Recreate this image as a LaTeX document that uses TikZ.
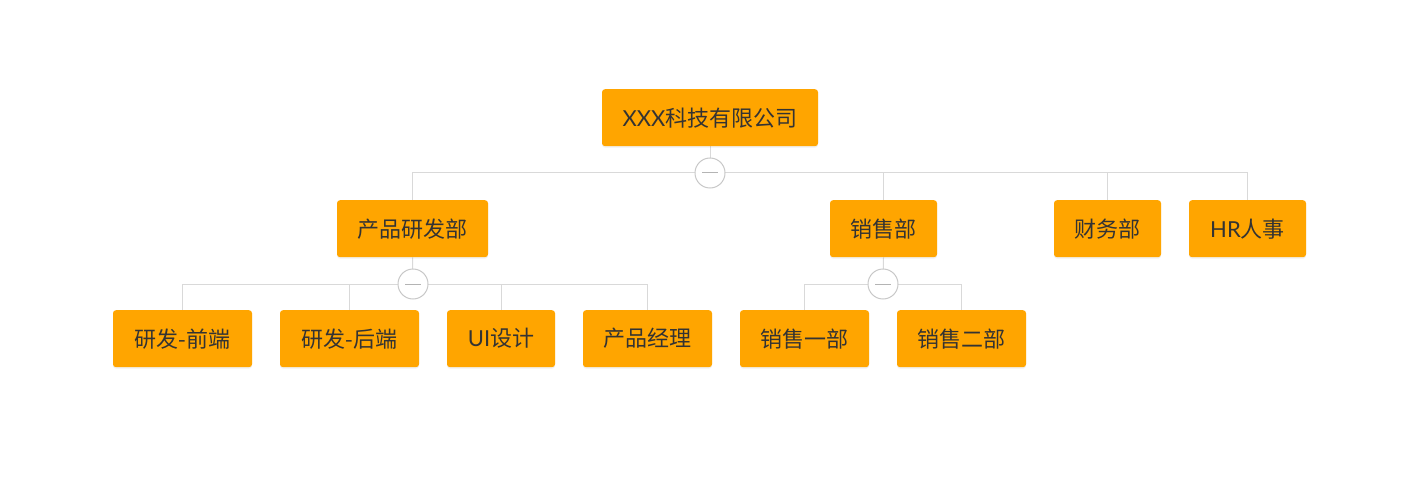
\documentclass[tikz,border=0pt]{standalone}
\usepackage{fontspec}
\setmainfont{Lato}
\newfontfamily\cjk{Noto Sans CJK SC}
\usetikzlibrary{backgrounds}
\definecolor{boxorange}{HTML}{FFA500}
\definecolor{boxtext}{HTML}{333333}
\definecolor{linkgray}{HTML}{D9D9D9}
\definecolor{circgray}{HTML}{C8C8C8}
\tikzset{
  orgbox/.style={fill=boxorange, rounded corners=3pt, inner sep=0pt, minimum height=57pt,
    text=boxtext, font=\fontsize{22}{25}\selectfont, anchor=north,
    preaction={fill=black, opacity=0.06, transform canvas={yshift=-1.5pt}}},
  link/.style={draw=linkgray, line width=1pt},
  togglec/.style={circle, draw=circgray, fill=white, line width=1pt, minimum size=30pt, inner sep=0pt},
  minus/.style={draw=circgray!90!black, line width=1pt}
}
\begin{document}
\begin{tikzpicture}[x=1pt,y=-1pt]
\useasboundingbox (0,0) rectangle (1407,486);
% level 0
\node[orgbox, minimum width=216pt] (root) at (710,89) {XXX{\cjk 科技有限公司}};
% level 1
\node[orgbox, minimum width=151pt] (rd) at (412.5,200) {\cjk 产品研发部};
\node[orgbox, minimum width=107pt] (sales) at (883.5,200) {\cjk 销售部};
\node[orgbox, minimum width=107pt] (fin) at (1107.5,200) {\cjk 财务部};
\node[orgbox, minimum width=117pt] (hr) at (1247.5,200) {HR{\cjk 人事}};
% level 2
\node[orgbox, minimum width=139pt] (fe) at (182.5,310) {\cjk 研发-前端};
\node[orgbox, minimum width=139pt] (be) at (349.5,310) {\cjk 研发-后端};
\node[orgbox, minimum width=108pt] (ui) at (501,310) {UI{\cjk 设计}};
\node[orgbox, minimum width=129pt] (pm) at (647.5,310) {\cjk 产品经理};
\node[orgbox, minimum width=129pt] (s1) at (804.5,310) {\cjk 销售一部};
\node[orgbox, minimum width=129pt] (s2) at (961.5,310) {\cjk 销售二部};
% toggles
\node[togglec] (t0) at (710,173) {};
\node[togglec] (t1) at (413,284) {};
\node[togglec] (t2) at (883,284) {};
\draw[minus] ([xshift=-8pt]t0.center) -- ([xshift=8pt]t0.center);
\draw[minus] ([xshift=-8pt]t1.center) -- ([xshift=8pt]t1.center);
\draw[minus] ([xshift=-8pt]t2.center) -- ([xshift=8pt]t2.center);
\begin{scope}[on background layer]
\draw[link] (root.south) -- (t0.center);
\draw[link] (t0.center) -| (rd.north);
\draw[link] (t0.center) -| (sales.north);
\draw[link] (t0.center) -| (fin.north);
\draw[link] (t0.center) -| (hr.north);
\draw[link] (rd.south) -- (t1.center);
\draw[link] (t1.center) -| (fe.north);
\draw[link] (t1.center) -| (be.north);
\draw[link] (t1.center) -| (ui.north);
\draw[link] (t1.center) -| (pm.north);
\draw[link] (sales.south) -- (t2.center);
\draw[link] (t2.center) -| (s1.north);
\draw[link] (t2.center) -| (s2.north);
\end{scope}
\end{tikzpicture}
\end{document}
